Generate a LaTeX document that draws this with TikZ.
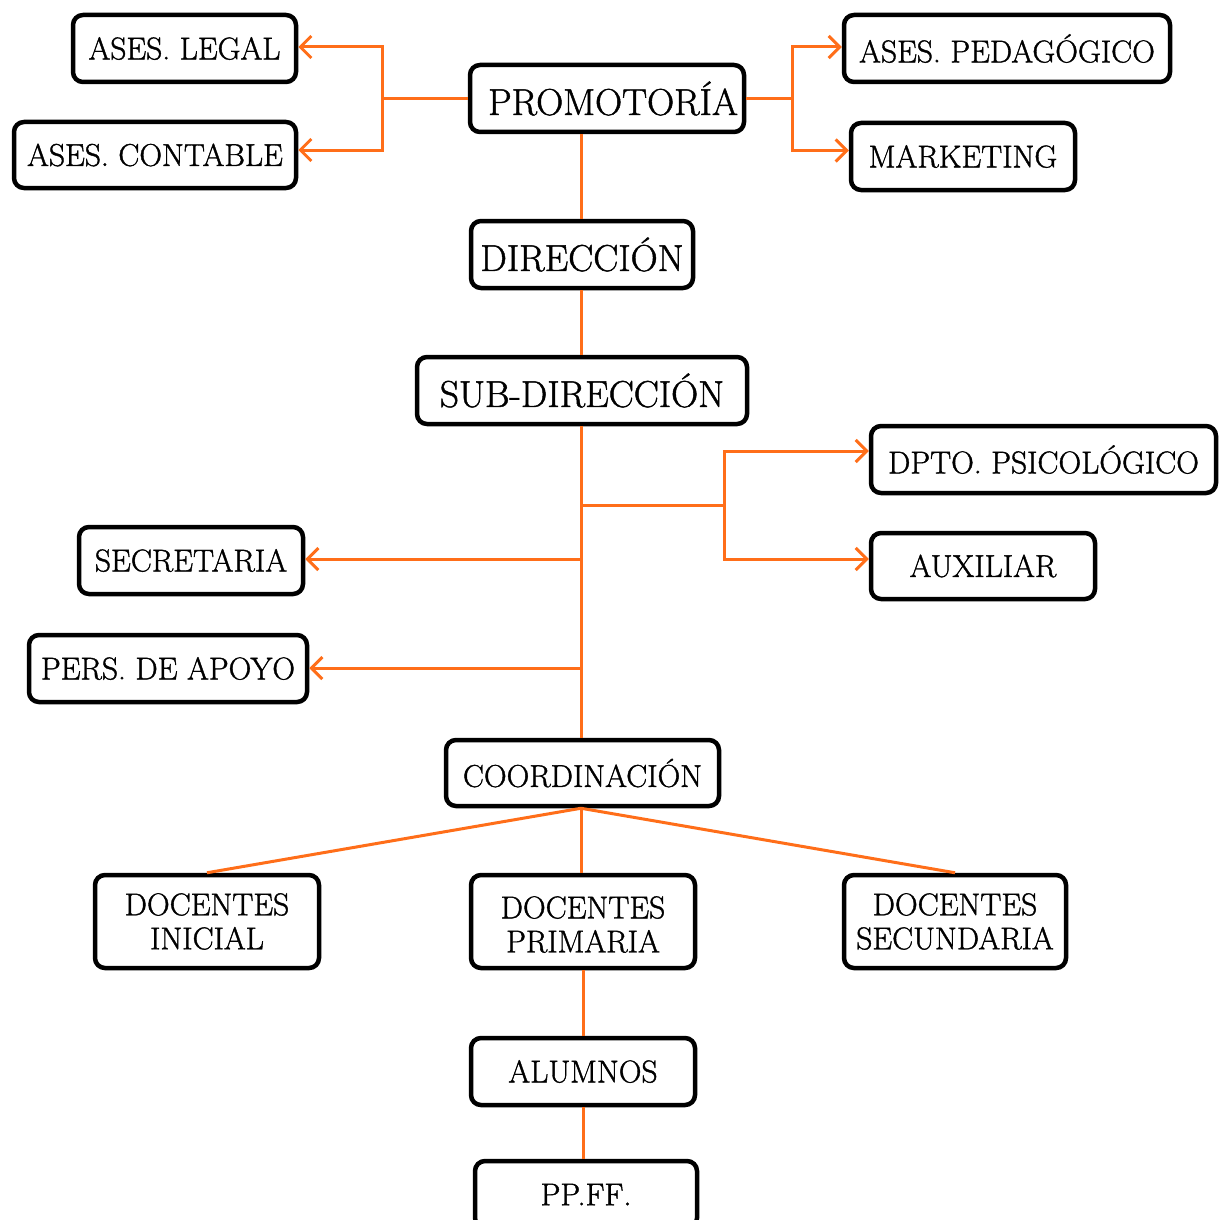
\documentclass[tikz,border=0pt]{standalone}
\usepackage{fontspec}
\setmainfont{Latin Modern Roman}[FakeBold=1.2]
\usetikzlibrary{arrows.meta}
\definecolor{conorange}{RGB}{255,110,25}
\begin{document}
\begin{tikzpicture}[x=1pt,y=-1pt,
  box/.style={draw=black,line width=4.5pt,rounded corners=10pt,fill=white,inner sep=0pt,
    align=center,font=\fontsize{31.5}{34}\selectfont},
  bigbox/.style={box,font=\fontsize{37.5}{40}\selectfont},
  conn/.style={draw=conorange,line width=3pt},
  arr/.style={conn,-{Straight Barb[length=11pt,width=22pt,line width=3pt]}}]
\useasboundingbox (0,0) rectangle (1220,1220);
\clip (0,0) rectangle (1220,1220);
\coordinate (bl) at (382,98.5);
\coordinate (br) at (792,98.5);
\coordinate (sb) at (581,505);
\coordinate (sr) at (724,505);
\coordinate (sec) at (581,559);
\coordinate (per) at (581,668);
% nodes
\node[box,minimum width=223,minimum height=67] (legal) at (184.5,48.5) {ASES. LEGAL};
\node[box,minimum width=282,minimum height=66] (contable) at (155,155) {ASES. CONTABLE};
\node[bigbox,minimum width=274,minimum height=67] (promo) at (607,98.5) {\hspace*{12pt}PROMOTORÍA};
\node[box,minimum width=326,minimum height=67] (pedag) at (1007,48.5) {ASES. PEDAGÓGICO};
\node[box,minimum width=224,minimum height=67] (mkt) at (963,156.5) {MARKETING};
\node[bigbox,minimum width=222,minimum height=67] (dir) at (582,254.5) {DIRECCIÓN};
\node[bigbox,minimum width=330,minimum height=67] (subdir) at (582,390.5) {SUB-DIRECCIÓN};
\node[box,minimum width=345,minimum height=67] (dpto) at (1043.5,459.5) {DPTO. PSICOLÓGICO};
\node[box,minimum width=224,minimum height=66] (aux) at (983,566) {AUXILIAR};
\node[box,minimum width=224,minimum height=67] (secr) at (191,560.5) {SECRETARIA};
\node[box,minimum width=278,minimum height=67] (pers) at (168,668.5) {PERS. DE APOYO};
\node[box,minimum width=273,minimum height=66] (coord) at (582.5,773) {COORDINACIÓN};
\node[box,minimum width=224,minimum height=93] (dini) at (207,921.5) {DOCENTES\\INICIAL};
\node[box,minimum width=224,minimum height=93] (dpri) at (583,921.5) {\raisebox{-7pt}[\height][\depth]{\begin{tabular}{@{}c@{}}DOCENTES\\PRIMARIA\end{tabular}}};
\node[box,minimum width=222,minimum height=93] (dsec) at (955,921.5) {DOCENTES\\SECUNDARIA};
\node[box,minimum width=224,minimum height=67] (alum) at (583,1071.5) {ALUMNOS};
\node[box,minimum width=222,minimum height=67] (ppff) at (586,1194.5) {PP.FF.};
% connectors
\draw[conn] (promo.west) -- (bl);
\draw[arr] (bl) |- ([yshift=1.5pt]legal.east);
\draw[arr] (bl) |- ([yshift=5pt]contable.east);
\draw[conn] (promo.east) -- (br);
\draw[arr] (br) |- ([yshift=1.5pt]pedag.west);
\draw[arr] (br) |- ([yshift=6pt]mkt.west);
\draw[conn] (dir.north -| sb) -- (sb |- promo.south);
\draw[conn] (dir.south -| sb) -- (sb |- subdir.north);
\draw[conn] (subdir.south -| sb) -- (sb |- coord.north);
\draw[conn] (sb) -- (sr);
\draw[arr] (sr) |- ([yshift=8.5pt]dpto.west);
\draw[arr] (sr) |- ([yshift=7pt]aux.west);
\draw[arr] (sec) -- (sec -| secr.east);
\draw[arr] (per) -- (per -| pers.east);
\draw[conn] (coord.south -| sb) -- (dini.north);
\draw[conn] (coord.south -| sb) -- (sb |- dpri.north);
\draw[conn] (coord.south -| sb) -- (dsec.north);
\draw[conn] (dpri.south -| alum.south) -- (alum.north);
\draw[conn] (alum.south) -- (alum.south |- ppff.north);
\end{tikzpicture}
\end{document}
